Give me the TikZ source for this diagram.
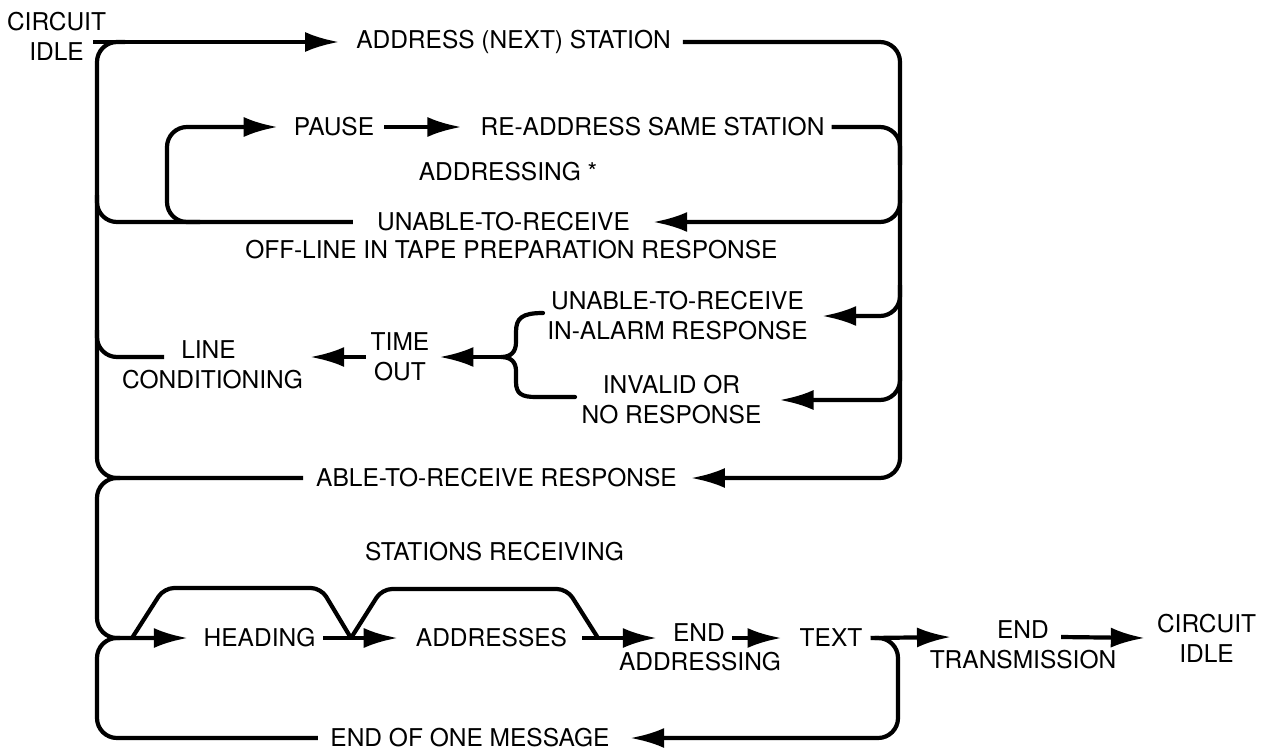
\documentclass[tikz,border=0pt]{standalone}
\usepackage{fontspec}
\setmainfont{TeX Gyre Heros}
\usetikzlibrary{arrows.meta,calc}
\begin{document}
\begin{tikzpicture}[x=1pt,y=-1pt,
  lbl/.style={font=\fontsize{24.5}{30}\selectfont, inner sep=0pt, align=center},
  flow/.style={line width=4.2pt, line join=round, rounded corners=20pt},
  arr/.style={flow, -{Latex[length=34pt,width=20pt]}},
  trap/.style={line width=4.2pt, line join=round, rounded corners=10pt},
  bracepath/.style={line width=4.2pt, line cap=round, line join=round}]
\useasboundingbox (0,0) rectangle (1265,750);

% ---------- labels ----------
\node[lbl] (ciTop) at (56.5,36.5) {CIRCUIT\\IDLE};
\node[lbl, minimum width=313pt] (addr) at (513.5,42) {ADDRESS (NEXT) STATION};
\node[lbl, minimum width=72pt] (pause) at (334,127) {PAUSE};
\node[lbl, minimum width=341pt] (readdr) at (652.5,127) {RE-ADDRESS SAME STATION};
\node[lbl] (addrstar) at (508,172) {ADDRESSING *};
\node[lbl, minimum width=253pt] (unable1) at (503.5,222) {UNABLE-TO-RECEIVE};
\node[lbl] (offline) at (511.5,250) {OFF-LINE IN TAPE PREPARATION RESPONSE};
\node[lbl, minimum width=261pt] (unable2) at (677.5,316) {UNABLE-TO-RECEIVE\\IN-ALARM RESPONSE};
\node[lbl, minimum width=177pt] (invalid) at (671.5,400) {INVALID OR\\NO RESPONSE};
\node[lbl, minimum width=54pt] (tt) at (400,357) {TIME\\OUT};
\node[lbl, minimum width=53pt] (lineT) at (208.5,350) {LINE};
\node[lbl, minimum width=205pt] (condT) at (212.5,380) {CONDITIONING};
\node[lbl, minimum width=343pt] (able) at (496.5,478) {ABLE-TO-RECEIVE RESPONSE};
\node[lbl] (stations) at (494.5,552) {STATIONS RECEIVING};
\node[lbl, minimum width=115pt] (heading) at (259.5,638) {HEADING};
\node[lbl, minimum width=127pt] (addresses) at (491.5,638) {ADDRESSES};
\node[lbl, minimum width=52pt] (endA) at (699,633) {END};
\node[lbl] (addrg) at (700,662) {ADDRESSING};
\node[lbl, minimum width=52pt] (textN) at (831,638) {TEXT};
\node[lbl, minimum width=50pt] (endT) at (1023,630) {END};
\node[lbl] (transm) at (1023,660) {TRANSMISSION};
\node[lbl, minimum width=93pt] (ciBot) at (1206.5,638) {CIRCUIT\\IDLE};
\node[lbl, minimum width=284pt] (eom) at (470,738) {END OF ONE MESSAGE};

% ---------- coordinates ----------
\coordinate (start) at (93,42);
\coordinate (braceTop) at (543,313);
\coordinate (braceTip) at (501,357);
\coordinate (braceBot) at (575,397);
\coordinate (j1) at (132,638);
\coordinate (j2) at (351,638);
\coordinate (j3) at (598,638);

% ---------- addressing part ----------
\draw[arr] (start) -- ($(addr.west)+(-17,0)$);
\draw[flow] (125,42) -- (97,42) -- (97,478) -- ($(able.west)+(-13,0)$);
\draw[arr] ($(addr.east)+(12,0)$) -- (900,42) -- (900,478) -- ($(able.east)+(14,0)$);
\draw[flow] ($(readdr.east)+(7,0)$) -- (900,127) -- (900,165);
\draw[arr] (900,190) -- (900,222) -- ($(unable1.east)+(23,0)$);
\draw[arr] (900,285) -- (900,316) -- ($(unable2.east)+(14,0)$);
\draw[arr] (900,370) -- (900,400) -- ($(invalid.east)+(18,0)$);
\draw[flow] (97,195) -- (97,222) -- ($(unable1.west)+(-24,0)$);
\draw[arr] (200,222) -- (167,222) -- (167,127) -- ($(pause.west)+(-16,0)$);
\draw[arr] ($(pause.east)+(10,0)$) -- ($(readdr.west)+(-19,0)$);
\draw[flow] (97,330) -- (97,357) -- ($(lineT.west)+(-17,7)$);
\draw[arr] ($(tt.west)+(-5,0)$) -- ($(condT.east)+(-5,-23)$);
\draw[bracepath] (braceTop) .. controls (522,313) and (516,318) .. (516,332)
  -- (516,342) .. controls (516,352) and (511,357) .. (braceTip)
  .. controls (511,357) and (516,362) .. (516,371)
  -- (516,382) .. controls (516,394) and (522,397) .. (536,397) -- (braceBot);
\draw[arr] (braceTip) -- ($(tt.east)+(10,0)$);

% ---------- message part ----------
\draw[arr] (120,478) -- (97,478) -- (97,638) -- ($(heading.west)+(-14,0)$);
\draw[flow] (120,638) -- (97,638) -- (97,738) -- ($(eom.west)+(-10,0)$);
\draw[trap] (j1) -- (164,588) -- (321,588) -- (j2);
\draw[trap] (j2) -- (382,589) -- (567,589) -- (j3);
\draw[arr] ($(heading.east)+(6,0)$) -- ($(addresses.west)+(-18,0)$);
\draw[arr] ($(addresses.east)+(15,0)$) -- ($(endA.west)+(-16,5)$);
\draw[arr] ($(endA.east)+(7,5)$) -- ($(textN.west)+(-18,0)$);
\draw[arr] ($(textN.east)+(8,0)$) -- ($(endT.west)+(-46,7)$);
\draw[arr] ($(textN.east)+(12,0)$) -- (898,638) -- (898,738) -- ($(eom.east)+(18,0)$);
\draw[arr] ($(endT.east)+(12,7)$) -- ($(ciBot.west)+(-12,0)$);
\end{tikzpicture}
\end{document}
